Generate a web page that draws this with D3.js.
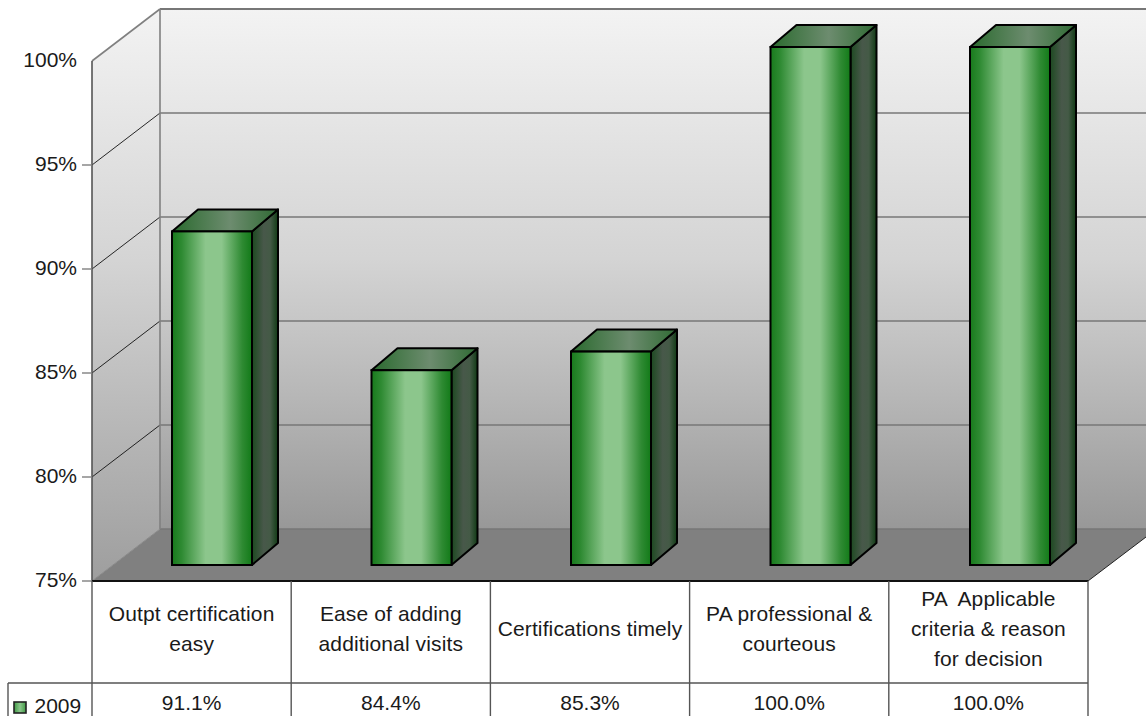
<!DOCTYPE html>
<html>
<head>
<meta charset="utf-8">
<script src="https://cdn.jsdelivr.net/npm/d3@7"></script>
<style>
html,body{margin:0;padding:0;background:#fff;overflow:hidden}
svg{display:block}
text{font-family:"Liberation Sans",Arial,sans-serif;font-size:21px;fill:#1a1a1a;white-space:pre}
.cat{letter-spacing:0.12px}
</style>
</head>
<body>
<script>
var categories = ["Outpt certification\neasy","Ease of adding\nadditional visits","Certifications timely","PA professional &\ncourteous","PA  Applicable\ncriteria & reason\nfor decision"];
var values2009 = [91.1,84.4,85.3,100,100];
var valueLabels = ["91.1%","84.4%","85.3%","100.0%","100.0%"];
var yTicks = [75,80,85,90,95,100];
var seriesName = "2009";

var w = 1146, h = 716;
var left = 92, right = 1088, y0 = 581, y100 = 61;
// depth of the box and of the bars
var dx = 68, dy = -52;
var barDx = 26, barDy = -22, barW = 80;
var tableMid = 683;

var x = d3.scaleBand().domain(d3.range(categories.length)).range([left,right]);
var y = d3.scaleLinear().domain([75,100]).range([y0,y100]);
// bars sit a little inside the box
var xBar = d3.scaleBand().domain(d3.range(categories.length)).range([172,172+5*199.5]);
var yBar = d3.scaleLinear().domain([75,100]).range([565,47]);

var svg = d3.select("body").append("svg").attr("width",w).attr("height",h);
var defs = svg.append("defs");

function grad(id,vertical,stops){
  var g = defs.append("linearGradient").attr("id",id)
    .attr("x1",0).attr("y1",0).attr("x2",vertical?0:1).attr("y2",vertical?1:0);
  stops.forEach(function(s){g.append("stop").attr("offset",s[0]).attr("stop-color",s[1]);});
}
grad("wall",true,[[0,"#f3f3f3"],[0.48,"#d4d4d4"],[0.75,"#b6b6b6"],[1,"#989898"]]);
grad("side",true,[[0,"#f3f3f3"],[0.44,"#d4d4d4"],[0.68,"#bcbcbc"],[1,"#9e9e9e"]]);
grad("front",false,[[0,"#187a1c"],[0.12,"#2e8a32"],[0.42,"#8cc68c"],[0.62,"#8cc68c"],[0.88,"#2e8a32"],[1,"#127a18"]]);
grad("barside",false,[[0,"#1c4a20"],[0.45,"#48584a"],[0.7,"#445a46"],[1,"#103a14"]]);
grad("bartop",false,[[0,"#2a6a2e"],[0.55,"#6d8c6f"],[1,"#2f6a33"]]);
grad("legend",false,[[0,"#3f9a44"],[0.5,"#8cc68c"],[1,"#3f9a44"]]);

// walls and floor
svg.append("path")
  .attr("d","M"+left+","+y(100)+"L"+(left+dx)+","+(y(100)+dy)+"L"+(left+dx)+","+(y0+dy)+"L"+left+","+y0+"Z")
  .attr("fill","url(#side)");
svg.append("rect").attr("x",left+dx).attr("y",y(100)+dy).attr("width",w-left-dx).attr("height",y0-y(100))
  .attr("fill","url(#wall)");
svg.append("path")
  .attr("d","M"+left+","+y0+"L"+(left+dx)+","+(y0+dy)+"L"+w+","+(y0+dy)+"L"+(right+58)+","+(y0-44)+"L"+right+","+y0+"Z")
  .attr("fill","#808080");

// gridlines on back wall, ties on the side wall
svg.selectAll(".grid").data(yTicks).enter().append("line").attr("class","grid")
  .attr("x1",left+dx).attr("x2",w).attr("y1",function(d){return y(d)+dy;}).attr("y2",function(d){return y(d)+dy;})
  .attr("stroke","#777").attr("stroke-width",function(d){return d==100?2:1.6;});
svg.selectAll(".tie").data(yTicks.slice(1,5)).enter().append("line").attr("class","tie")
  .attr("x1",left).attr("x2",left+dx).attr("y1",function(d){return y(d);}).attr("y2",function(d){return y(d)+dy;})
  .attr("stroke","#111").attr("stroke-width",0.9);
svg.append("line").attr("x1",left).attr("y1",y(100)).attr("x2",left+dx).attr("y2",y(100)+dy).attr("stroke","#808080").attr("stroke-width",1.6);
svg.append("line").attr("x1",left+dx).attr("y1",y(100)+dy).attr("x2",left+dx).attr("y2",y0+dy).attr("stroke","#808080").attr("stroke-width",1.6);
svg.append("line").attr("x1",left).attr("y1",y0).attr("x2",left+dx).attr("y2",y0+dy).attr("stroke","#8a8a8a").attr("stroke-width",1);
svg.append("line").attr("x1",right).attr("y1",y0).attr("x2",right+58).attr("y2",y0-44).attr("stroke","#222").attr("stroke-width",1);

// y axis
svg.append("line").attr("x1",left).attr("x2",left).attr("y1",y(100)).attr("y2",y0).attr("stroke","#555").attr("stroke-width",1.6);
svg.selectAll(".tick").data(yTicks.slice(0,5)).enter().append("line").attr("class","tick")
  .attr("x1",left-10).attr("x2",left).attr("y1",function(d){return y(d);}).attr("y2",function(d){return y(d);})
  .attr("stroke","#808080").attr("stroke-width",1.4);
svg.selectAll(".ylab").data(yTicks).enter().append("text").attr("class","ylab")
  .attr("x",77).attr("y",function(d){return y(d)+6;}).attr("text-anchor","end")
  .text(function(d){return d+"%";});

// bars
var bars = svg.selectAll(".bar").data(values2009).enter().append("g").attr("class","bar")
  .attr("transform",function(d,i){return "translate("+xBar(i)+",0)";});
bars.append("path").attr("fill","url(#barside)").attr("stroke","#000").attr("stroke-width",2).attr("stroke-linejoin","round")
  .attr("d",function(d){var t=yBar(d),b=yBar(75);
    return "M"+barW+","+t+"l"+barDx+","+barDy+"L"+(barW+barDx)+","+(b+barDy)+"L"+barW+","+b+"Z";});
bars.append("path").attr("fill","url(#bartop)").attr("stroke","#000").attr("stroke-width",2).attr("stroke-linejoin","round")
  .attr("d",function(d){var t=yBar(d);
    return "M0,"+t+"l"+barDx+","+barDy+"h"+barW+"l"+(-barDx)+","+(-barDy)+"Z";});
bars.append("rect").attr("fill","url(#front)").attr("stroke","#000").attr("stroke-width",2)
  .attr("x",0).attr("width",barW).attr("y",function(d){return yBar(d);})
  .attr("height",function(d){return yBar(75)-yBar(d);});

// data table
svg.append("line").attr("x1",left).attr("x2",right).attr("y1",y0).attr("y2",y0).attr("stroke","#111").attr("stroke-width",2);
svg.append("line").attr("x1",8).attr("x2",right).attr("y1",tableMid).attr("y2",tableMid).attr("stroke","#555").attr("stroke-width",1.4);
svg.selectAll(".vline").data(d3.range(categories.length+1)).enter().append("line").attr("class","vline")
  .attr("x1",function(i){return left+i*x.bandwidth();}).attr("x2",function(i){return left+i*x.bandwidth();})
  .attr("y1",y0).attr("y2",h).attr("stroke","#555").attr("stroke-width",1.4);
svg.append("line").attr("x1",8).attr("x2",8).attr("y1",tableMid).attr("y2",h).attr("stroke","#555").attr("stroke-width",1.4);

var lineH = 30;
svg.selectAll(".cat").data(categories).enter().append("text").attr("class","cat")
  .attr("text-anchor","middle")
  .each(function(d,i){
    var lines = d.split("\n"), t = d3.select(this);
    var startY = 636 - (lines.length-1)*lineH/2;
    lines.forEach(function(l,k){
      t.append("tspan").attr("x",x(i)+x.bandwidth()/2).attr("y",startY+k*lineH).text(l);
    });
  });
svg.selectAll(".val").data(valueLabels).enter().append("text").attr("class","val")
  .attr("text-anchor","middle").attr("x",function(d,i){return x(i)+x.bandwidth()/2;}).attr("y",710)
  .text(function(d){return d;});

// legend key
svg.append("rect").attr("x",14).attr("y",702).attr("width",12).attr("height",11)
  .attr("fill","url(#legend)").attr("stroke","#222").attr("stroke-width",1.6);
svg.append("text").attr("x",34.5).attr("y",712.5).text(seriesName);
</script>
</body>
</html>
